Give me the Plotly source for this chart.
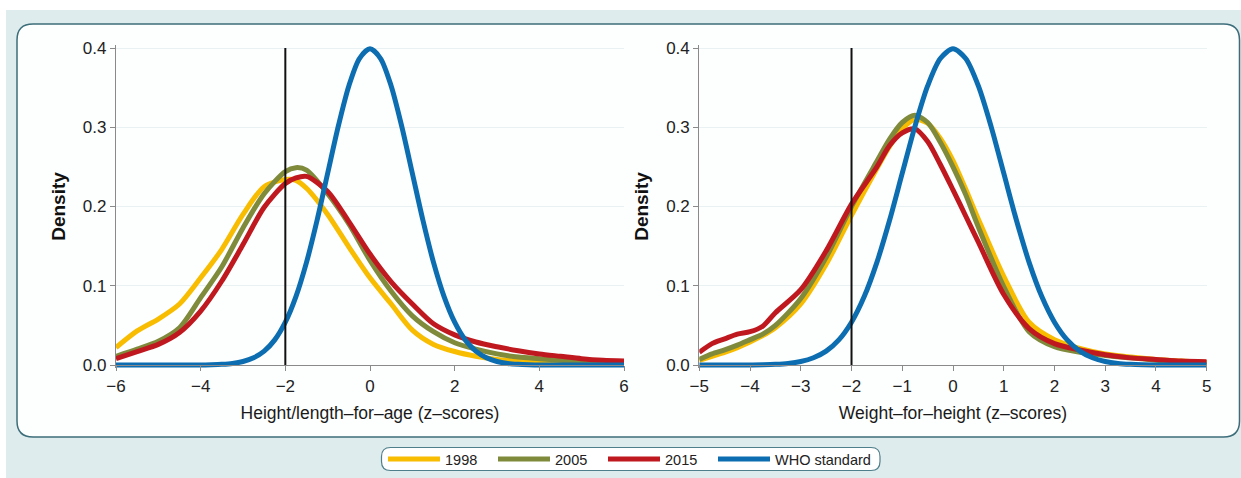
import plotly.graph_objects as go

# ---------------- data ----------------
series_names = ["1998", "2005", "2015", "WHO standard"]
series_colors = ["#F8BC00", "#7F8A3B", "#BF191F", "#0C6DB0"]
series_legends = ["legend", "legend", "legend", "legend2"]

# Left panel: Height/length-for-age
z_left = [-6, -5.5, -5, -4.5, -4, -3.5, -3, -2.5, -2, -1.75, -1.5, -1, -0.5,
          0, 0.5, 1, 1.5, 2, 2.5, 3, 3.5, 4, 4.5, 5, 5.5, 6]
haz_1998 = [0.022, 0.043, 0.058, 0.077, 0.110, 0.146, 0.190, 0.225, 0.234, 0.233, 0.223, 0.190, 0.149,
            0.110, 0.077, 0.044, 0.026, 0.017, 0.011, 0.007, 0.005, 0.003, 0.002, 0.001, 0.001, 0.0005]
haz_2005 = [0.011, 0.020, 0.030, 0.047, 0.085, 0.124, 0.173, 0.216, 0.244, 0.249, 0.246, 0.216, 0.178,
            0.132, 0.093, 0.062, 0.042, 0.028, 0.020, 0.014, 0.010, 0.008, 0.006, 0.004, 0.003, 0.002]
haz_2015 = [0.008, 0.017, 0.026, 0.041, 0.068, 0.106, 0.152, 0.199, 0.229, 0.236, 0.238, 0.219, 0.181,
            0.140, 0.105, 0.077, 0.052, 0.038, 0.029, 0.023, 0.018, 0.014, 0.011, 0.008, 0.006, 0.005]

z_who_left = [-6, -5, -4, -3.75, -3.5, -3.25, -3, -2.75, -2.5, -2.25, -2, -1.75, -1.5, -1.25, -1,
              -0.75, -0.5, -0.25, 0, 0.25, 0.5, 0.75, 1, 1.25, 1.5, 1.75, 2, 2.25, 2.5, 2.75,
              3, 3.25, 3.5, 3.75, 4, 5, 6]
who_left = [0.0, 0.0, 0.0001, 0.0004, 0.0009, 0.0020, 0.0044, 0.0091, 0.0175, 0.0317, 0.0540, 0.0863,
            0.1295, 0.1826, 0.2420, 0.3011, 0.3521, 0.3867, 0.3989, 0.3867, 0.3521, 0.3011, 0.2420,
            0.1826, 0.1295, 0.0863, 0.0540, 0.0317, 0.0175, 0.0091, 0.0044, 0.0020, 0.0009, 0.0004,
            0.0001, 0.0, 0.0]

# Right panel: Weight-for-height
z_right = [-5, -4.75, -4.5, -4.25, -4, -3.75, -3.5, -3, -2.5, -2, -1.5, -1.25, -1, -0.75, -0.5,
           -0.25, 0, 0.25, 0.5, 1, 1.5, 2, 2.5, 3, 3.5, 4, 4.5, 5]
whz_1998 = [0.006, 0.011, 0.016, 0.022, 0.029, 0.037, 0.047, 0.077, 0.127, 0.189, 0.248, 0.276, 0.298,
            0.310, 0.305, 0.286, 0.258, 0.222, 0.184, 0.112, 0.054, 0.032, 0.021, 0.014, 0.010, 0.007,
            0.005, 0.003]
whz_2005 = [0.007, 0.014, 0.019, 0.025, 0.032, 0.039, 0.050, 0.084, 0.136, 0.200, 0.257, 0.285, 0.306,
            0.315, 0.306, 0.281, 0.250, 0.215, 0.174, 0.099, 0.042, 0.023, 0.016, 0.012, 0.009, 0.006,
            0.004, 0.003]
whz_2015 = [0.016, 0.027, 0.033, 0.039, 0.042, 0.049, 0.066, 0.095, 0.144, 0.203, 0.250, 0.277, 0.293,
            0.298, 0.282, 0.253, 0.221, 0.188, 0.155, 0.089, 0.046, 0.027, 0.019, 0.013, 0.009, 0.007,
            0.005, 0.004]

z_who_right = [-5, -4, -3.75, -3.5, -3.25, -3, -2.75, -2.5, -2.25, -2, -1.75, -1.5, -1.25, -1,
               -0.75, -0.5, -0.25, 0, 0.25, 0.5, 0.75, 1, 1.25, 1.5, 1.75, 2, 2.25, 2.5, 2.75,
               3, 3.25, 3.5, 3.75, 4, 5]
who_right = [0.0, 0.0001, 0.0004, 0.0009, 0.0020, 0.0044, 0.0091, 0.0175, 0.0317, 0.0540, 0.0863,
             0.1295, 0.1826, 0.2420, 0.3011, 0.3521, 0.3867, 0.3989, 0.3867, 0.3521, 0.3011, 0.2420,
             0.1826, 0.1295, 0.0863, 0.0540, 0.0317, 0.0175, 0.0091, 0.0044, 0.0020, 0.0009, 0.0004,
             0.0001, 0.0]

cutoff = -2
y_ticks = [0, 0.1, 0.2, 0.3, 0.4]
left_ticks = [-6, -4, -2, 0, 2, 4, 6]
right_ticks = [-5, -4, -3, -2, -1, 0, 1, 2, 3, 4, 5]
left_title = "Height/length–for–age (z–scores)"
right_title = "Weight–for–height (z–scores)"
y_title = "Density"

# ---------------- figure ----------------
W, H = 1241, 478
FONT = "Liberation Sans, Arial, Helvetica, sans-serif"

fig = go.Figure()

left_sets = [(z_left, haz_1998), (z_left, haz_2005), (z_left, haz_2015), (z_who_left, who_left)]
right_sets = [(z_right, whz_1998), (z_right, whz_2005), (z_right, whz_2015), (z_who_right, who_right)]

for i, (xs, ys) in enumerate(left_sets):
    fig.add_trace(go.Scatter(x=xs, y=ys, mode="lines", name=series_names[i],
                             line=dict(color=series_colors[i], width=5, shape="spline", smoothing=0.8),
                             xaxis="x", yaxis="y", legendgroup=series_names[i], showlegend=True,
                             legend=series_legends[i]))
for i, (xs, ys) in enumerate(right_sets):
    fig.add_trace(go.Scatter(x=xs, y=ys, mode="lines", name=series_names[i],
                             line=dict(color=series_colors[i], width=5, shape="spline", smoothing=0.8),
                             xaxis="x2", yaxis="y2", legendgroup=series_names[i], showlegend=False,
                             legend=series_legends[i]))


def px(x):
    return x / W


def py(y):
    return 1 - y / H


def rounded_path(x0, y0, x1, y1, r):
    # pixel coordinates -> paper path with quadratic corners
    pts = [
        ("M", px(x0 + r), py(y0)),
        ("L", px(x1 - r), py(y0)),
        ("Q", px(x1), py(y0), px(x1), py(y0 + r)),
        ("L", px(x1), py(y1 - r)),
        ("Q", px(x1), py(y1), px(x1 - r), py(y1)),
        ("L", px(x0 + r), py(y1)),
        ("Q", px(x0), py(y1), px(x0), py(y1 - r)),
        ("L", px(x0), py(y0 + r)),
        ("Q", px(x0), py(y0), px(x0 + r), py(y0)),
    ]
    s = ""
    for p in pts:
        s += p[0] + " " + ",".join(f"{v:.5f}" for v in p[1:]) + " "
    return s + "Z"


shapes = [
    dict(type="rect", xref="paper", yref="paper", x0=px(6), x1=1, y0=0, y1=py(10),
         fillcolor="#DFECEE", line=dict(width=0), layer="below"),
    dict(type="path", xref="paper", yref="paper", path=rounded_path(17, 24, 1239.5, 437, 16),
         fillcolor="#FDFEFE", line=dict(color="#3C6E7A", width=1.5), layer="below"),
    dict(type="path", xref="paper", yref="paper", path=rounded_path(381.5, 447.5, 880, 470.5, 9),
         fillcolor="#FFFFFF", line=dict(color="#4F7F8A", width=1.2), layer="below"),
    dict(type="line", xref="x", yref="y", x0=cutoff, x1=cutoff, y0=0, y1=0.4,
         line=dict(color="#111111", width=2), layer="above"),
    dict(type="line", xref="x2", yref="y2", x0=cutoff, x1=cutoff, y0=0, y1=0.4,
         line=dict(color="#111111", width=2), layer="above"),
]

y_dom = [py(365 + 0.004 * 792.5), py(48 - 0.004 * 792.5)]
axis_common = dict(showline=True, linecolor="#8A8A8A", linewidth=1.2, ticks="outside", ticklen=5,
                   tickcolor="#8A8A8A", tickwidth=1.2, zeroline=False, automargin=False,
                   tickfont=dict(family=FONT, size=17, color="#222222"))

xcommon = dict(axis_common, showgrid=False, anchor="free", position=py(365),
               title=dict(font=dict(family=FONT, size=17.5, color="#1A1A1A"), standoff=12))
ycommon = dict(axis_common, range=[-0.004, 0.404], domain=y_dom, tickvals=y_ticks, tickformat=".1f",
               showgrid=True, gridcolor="#EAF1F3", gridwidth=1,
               title=dict(text=y_title, font=dict(family=FONT, size=19, color="#111111", weight="bold"),
                          standoff=12))

legend_common = dict(orientation="h", y=py(459), yanchor="middle", xanchor="left",
                     bgcolor="rgba(0,0,0,0)", borderwidth=0, itemwidth=52,
                     font=dict(family=FONT, size=14.5, color="#222222"))

fig.update_layout(
    width=W, height=H, autosize=False,
    margin=dict(l=0, r=0, t=0, b=0, pad=0, autoexpand=False),
    paper_bgcolor="#FFFFFF", plot_bgcolor="rgba(0,0,0,0)",
    font=dict(family=FONT, color="#222222"),
    shapes=shapes,
    xaxis=dict(xcommon, domain=[px(116), px(624)], range=[-6, 6], tickvals=left_ticks,
               title=dict(xcommon["title"], text=left_title)),
    xaxis2=dict(xcommon, domain=[px(699.3), px(1206.7)], range=[-5, 5], tickvals=right_ticks,
                title=dict(xcommon["title"], text=right_title)),
    yaxis=dict(ycommon, anchor="x"),
    yaxis2=dict(ycommon, anchor="x2"),
    legend=dict(legend_common, x=px(383), entrywidth=43, entrywidthmode="pixels"),
    legend2=dict(legend_common, x=px(713)),
    showlegend=True,
)

fig.write_html("out.html", config={"displayModeBar": False},
               post_script="document.body.style.margin='0px';")
